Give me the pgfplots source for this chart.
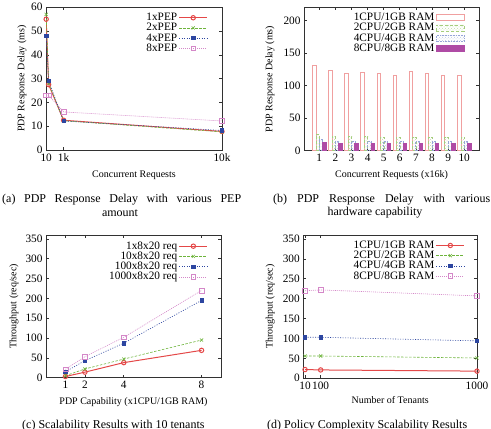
\documentclass[border=0pt]{standalone}
\usepackage{fontspec}
\setmainfont{Liberation Serif}
\usepackage{pgfplots}
\pgfplotsset{compat=1.18}
\usetikzlibrary{patterns}

\definecolor{cR}{RGB}{228,72,72}
\definecolor{cG}{RGB}{110,180,60}
\definecolor{cB}{RGB}{45,70,160}
\definecolor{cP}{RGB}{212,135,200}
\definecolor{bR}{RGB}{240,160,160}
\definecolor{bG}{RGB}{165,205,125}
\definecolor{bB}{RGB}{150,165,215}
\definecolor{bP}{RGB}{175,75,165}
\definecolor{ax}{RGB}{50,50,50}

\newcommand{\lf}{\fontsize{11.3}{11.5}\selectfont}
\newcommand{\cf}{\fontsize{12}{13}\selectfont}

\pgfplotsset{
  gp/.style={
    scale only axis,
    axis line style={draw=ax, line width=0.7pt},
    tick align=inside,
    tick pos=both,
    major tick length=3pt,
    tick style={draw=ax, line width=0.6pt},
    tick label style={font=\lf},
    scaled x ticks=false, scaled y ticks=false,
    /pgf/number format/assume math mode=true,
    label style={font=\lf},
    legend style={draw=none, fill=none, font=\lf, anchor=north east,
      row sep=-1.8pt, inner sep=0pt, nodes={inner sep=1.5pt}},
    legend cell align=right,
    legend plot pos=right,
    legend image code/.code={\draw[mark repeat=2,mark phase=2,##1] plot coordinates {(0pt,0pt) (14pt,0pt) (28pt,0pt)};},
  },
  sR/.style={cR, line width=1pt, mark=o, mark size=2.2pt, mark options={solid}},
  sG/.style={cG, line width=0.6pt, dash pattern=on 2.5pt off 1.5pt, mark=x, mark size=2.2pt, mark options={solid}},
  sB/.style={cB, line width=0.6pt, dash pattern=on 1pt off 1.5pt, mark=square*, mark size=1.7pt, mark options={solid}},
  sP/.style={cP, line width=0.6pt, dash pattern=on 1pt off 1pt, mark=square, mark size=2.4pt, mark options={solid}},
  barlegend/.style={legend image code/.code={\draw[##1] (0pt,-3pt) rectangle (28pt,3pt);}},
}

\begin{document}
\begin{tikzpicture}
\path[use as bounding box, clip] (0pt,0pt) rectangle (491pt,429pt);

% (a)
\begin{axis}[gp, at={(46pt,421.7pt)}, anchor=north west, width=176pt, height=142.7pt,
  xmin=0, xmax=10000, ymin=0, ymax=60,
  xtick={10,1000,10000}, xticklabels={10,1k,10k},
  ytick={0,10,20,30,40,50,60},
  xlabel={Concurrent Requests}, ylabel={PDP Response Delay (ms)},
  every axis x label/.style={at={(axis description cs:0.5,-0.175)}, anchor=center},
  every axis y label/.style={at={(axis description cs:-0.136,0.5)}, anchor=center, rotate=90},
  legend style={at={(axis description cs:0.92,0.97)}},
]
\addplot[sR] coordinates {(10,55) (150,27.5) (1000,12.5) (10000,7.8)};
\addlegendentry{1xPEP}
\addplot[sG] coordinates {(10,57) (150,28) (1000,12.3) (10000,7.6)};
\addlegendentry{2xPEP}
\addplot[sB] coordinates {(10,48) (150,29) (1000,12.2) (10000,8.2)};
\addlegendentry{4xPEP}
\addplot[sP] coordinates {(10,23) (150,23) (1000,16) (10000,12.2)};
\addlegendentry{8xPEP}
\end{axis}

% (b)
\begin{axis}[gp, at={(304pt,421.7pt)}, anchor=north west, width=175pt, height=143.4pt,
  xmin=0.05, xmax=10.92, ymin=0, ymax=220,
  xtick={1,2,3,4,5,6,7,8,9,10},
  ytick={0,50,100,150,200},
  xlabel={Concurrent Requests (x16k)}, ylabel={PDP Response Delay (ms)},
  every axis x label/.style={at={(axis description cs:0.5,-0.17)}, anchor=center},
  every axis y label/.style={at={(axis description cs:-0.194,0.5)}, anchor=center, rotate=90},
  legend style={at={(axis description cs:0.92,0.97)}},
]
\addplot[ybar, bar width=0.22, bar shift=-0.31, draw=bR, fill=white, line width=0.8pt, barlegend]
  coordinates {(1,131) (2,123) (3,118) (4,120) (5,119) (6,115) (7,122) (8,119) (9,116) (10,116)};
\addlegendentry{1CPU/1GB RAM}
\addplot[ybar, bar width=0.22, bar shift=-0.1, draw=bG, pattern=crosshatch dots, pattern color=bG!70, line width=0.6pt, densely dashed, barlegend]
  coordinates {(1,25) (2,22) (3,22) (4,22) (5,21) (6,21) (7,21) (8,21) (9,21) (10,21)};
\addlegendentry{2CPU/2GB RAM}
\addplot[ybar, bar width=0.22, bar shift=0.1, draw=bB, pattern=crosshatch dots, pattern color=bB!60, line width=0.6pt, densely dotted, barlegend]
  coordinates {(1,17) (2,15) (3,15) (4,15) (5,15) (6,15) (7,15) (8,15) (9,15) (10,15)};
\addlegendentry{4CPU/4GB RAM}
\addplot[ybar, bar width=0.22, bar shift=0.31, draw=bP, fill=bP, line width=0.6pt, barlegend]
  coordinates {(1,13) (2,11) (3,11) (4,11) (5,11) (6,11) (7,11) (8,11) (9,11) (10,11)};
\addlegendentry{8CPU/8GB RAM}
\end{axis}

% (c)
\begin{axis}[gp, at={(46pt,194pt)}, anchor=north west, width=175pt, height=142.7pt,
  xmin=0, xmax=9, ymin=0, ymax=360,
  xtick={1,2,4,8},
  ytick={0,50,100,150,200,250,300,350},
  xlabel={PDP Capability (x1CPU/1GB RAM)}, ylabel={Throughput (req/sec)},
  every axis x label/.style={at={(axis description cs:0.5,-0.168)}, anchor=center},
  every axis y label/.style={at={(axis description cs:-0.183,0.5)}, anchor=center, rotate=90},
  legend style={at={(axis description cs:0.926,0.965)}},
]
\addplot[sR] coordinates {(1,3) (2,14) (4,38) (8,69)};
\addlegendentry{1x8x20 req}
\addplot[sG] coordinates {(1,5) (2,22) (4,47) (8,95)};
\addlegendentry{10x8x20 req}
\addplot[sB] coordinates {(1,15) (2,43) (4,87) (8,195)};
\addlegendentry{100x8x20 req}
\addplot[sP] coordinates {(1,21) (2,53) (4,102) (8,220)};
\addlegendentry{1000x8x20 req}
\end{axis}

% (d)
\begin{axis}[gp, at={(303.3pt,194pt)}, anchor=north west, width=173.7pt, height=143.3pt,
  xmin=0, xmax=1000, ymin=0, ymax=360,
  xtick={10,100,1000}, xticklabels={10,100,1000},
  ytick={0,50,100,150,200,250,300,350},
  xlabel={Number of Tenants}, ylabel={Throughput (req/sec)},
  every axis x label/.style={at={(axis description cs:0.5,-0.152)}, anchor=center},
  every axis y label/.style={at={(axis description cs:-0.19,0.5)}, anchor=center, rotate=90},
  legend style={at={(axis description cs:0.931,0.97)}},
]
\addplot[sR] coordinates {(10,22) (100,21) (1000,18)};
\addlegendentry{1CPU/1GB RAM}
\addplot[sG] coordinates {(10,56) (100,56) (1000,51)};
\addlegendentry{2CPU/2GB RAM}
\addplot[sB] coordinates {(10,103) (100,103) (1000,94)};
\addlegendentry{4CPU/4GB RAM}
\addplot[sP] coordinates {(10,220) (100,222) (1000,207)};
\addlegendentry{8CPU/8GB RAM}
\end{axis}

% captions
\node[anchor=west, inner sep=0pt, font=\cf] at (2pt,229pt) {\makebox[239pt][s]{(a) PDP Response Delay with various PEP}};
\node[anchor=center, inner sep=0pt, font=\cf] at (120pt,216pt) {amount};
\node[anchor=west, inner sep=0pt, font=\cf] at (273pt,229pt) {\makebox[217pt][s]{(b) PDP Response Delay with various}};
\node[anchor=center, inner sep=0pt, font=\cf] at (375pt,216pt) {hardware capability};
\node[anchor=west, inner sep=0pt, font=\cf] at (22pt,3.3pt) {(c) Scalability Results with 10 tenants};
\node[anchor=west, inner sep=0pt, font=\cf] at (267pt,3.3pt) {(d) Policy Complexity Scalability Results};
\end{tikzpicture}
\end{document}
